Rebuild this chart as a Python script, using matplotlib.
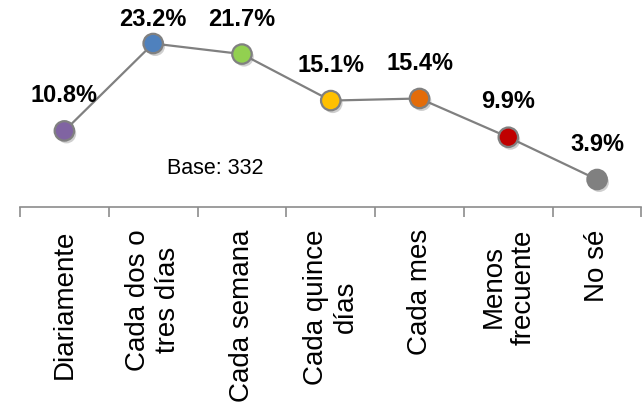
import matplotlib
matplotlib.use("Agg")
import matplotlib.pyplot as plt
import matplotlib.patheffects as pe
import numpy as np

plt.rcParams['font.family'] = ['Liberation Sans', 'DejaVu Sans']

categories = ["Diariamente", "Cada dos o\ntres días", "Cada semana", "Cada quince\ndías",
              "Cada mes", "Menos\nfrecuente", "No sé"]
values = [10.8, 23.2, 21.7, 15.1, 15.4, 9.9, 3.9]
marker_colors = ["#8064a2", "#4f81bd", "#92d050", "#ffc000", "#e36c09", "#c00000", "#808080"]
base_text = "Base: 332"

fig = plt.figure(figsize=(6.44, 4.05), dpi=100)
ax = fig.add_axes([20 / 644, 1 - 207 / 405, 621.5 / 644, 207 / 405])

x = np.arange(len(categories))
ax.plot(x, values, color="#808080", lw=1.6, zorder=2)
for xi, v, c in zip(x, values, marker_colors):
    ax.plot([xi], [v], marker="o", ms=14, mfc=c,
            mec="#808080" if c != "#808080" else c, mew=1.6, ls="none", zorder=3,
            path_effects=[pe.SimplePatchShadow(offset=(1.5, -2), shadow_rgbFace="#777777", alpha=0.35),
                          pe.Normal()])

# labels: sit above the point, but never past the top of the chart
for xi, v in zip(x, values):
    ax.text(xi, min(v + 5.0, 26.6), f"{v:.1f}%", ha="center", va="center",
            fontsize=17, fontweight="bold", color="black")

ax.text(1.7, 5.4, base_text, ha="center", va="center", fontsize=15.5, color="black")

ax.set_xlim(-0.5, len(categories) - 0.5)
ax.set_ylim(0, 207 / 7.047)

for s in ["top", "left", "right"]:
    ax.spines[s].set_visible(False)
ax.spines["bottom"].set_color("#8c8c8c")
ax.spines["bottom"].set_linewidth(1.2)
ax.set_yticks([])

ax.set_xticks(x)
ax.set_xticklabels(categories, rotation=90, fontsize=20, va="top", ha="center")
ax.set_xticks(np.arange(-0.5, len(categories)), minor=True)
ax.tick_params(axis="x", which="major", length=0, pad=16)
ax.tick_params(axis="x", which="minor", length=7, width=1.2, color="#8c8c8c", direction="out")
ax.patch.set_visible(False)

fig.savefig("out.png", dpi=100)
